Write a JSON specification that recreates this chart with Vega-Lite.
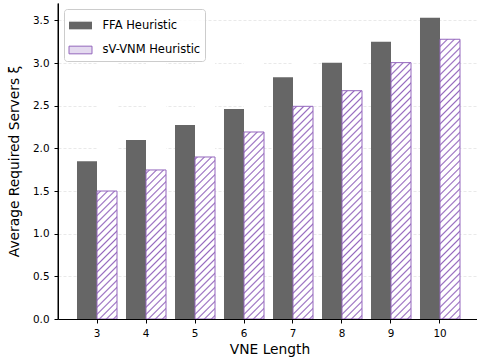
{
  "$schema": "https://vega.github.io/schema/vega-lite/v6.json",
  "width": 419,
  "height": 316,
  "autosize": {"type": "none"},
  "padding": {"left": 58, "top": 3, "right": 0, "bottom": 44},
  "background": "white",
  "data": {"values": [
    {"len": 3, "series": "FFA Heuristic", "value": 1.85},
    {"len": 4, "series": "FFA Heuristic", "value": 2.098},
    {"len": 5, "series": "FFA Heuristic", "value": 2.274},
    {"len": 6, "series": "FFA Heuristic", "value": 2.462},
    {"len": 7, "series": "FFA Heuristic", "value": 2.833},
    {"len": 8, "series": "FFA Heuristic", "value": 3.005},
    {"len": 9, "series": "FFA Heuristic", "value": 3.251},
    {"len": 10, "series": "FFA Heuristic", "value": 3.53},
    {"len": 3, "series": "sV-VNM Heuristic", "value": 1.5},
    {"len": 4, "series": "sV-VNM Heuristic", "value": 1.747},
    {"len": 5, "series": "sV-VNM Heuristic", "value": 1.899},
    {"len": 6, "series": "sV-VNM Heuristic", "value": 2.192},
    {"len": 7, "series": "sV-VNM Heuristic", "value": 2.493},
    {"len": 8, "series": "sV-VNM Heuristic", "value": 2.676},
    {"len": 9, "series": "sV-VNM Heuristic", "value": 3.005},
    {"len": 10, "series": "sV-VNM Heuristic", "value": 3.279}
  ]},
  "encoding": {
    "x": {
      "field": "len", "type": "ordinal",
      "scale": {"domain": [3, 4, 5, 6, 7, 8, 9, 10], "range": [0, 421], "paddingInner": 0.183673, "paddingOuter": 0.387755},
      "axis": {"title": "VNE Length", "labelAngle": 0, "tickSize": 4, "labelPadding": 5, "zindex": 1,
               "titleX": 211.5, "titleY": 34.4, "titleBaseline": "alphabetic", "titleAnchor": "middle"}
    },
    "xOffset": {
      "field": "series", "type": "nominal",
      "scale": {"domain": ["FFA Heuristic", "sV-VNM Heuristic"], "paddingInner": 0, "paddingOuter": 0}
    }
  },
  "layer": [
    {
      "transform": [{"filter": "datum.series === 'FFA Heuristic'"}],
      "mark": {"type": "bar", "strokeWidth": 1},
      "encoding": {
        "y": {
          "field": "value", "type": "quantitative",
          "scale": {"domain": [0, 3.704], "nice": false, "zero": true},
          "axis": {"title": "Average Required Servers ξ", "values": [0, 0.5, 1, 1.5, 2, 2.5, 3, 3.5], "format": ".1f",
                   "tickSize": 4, "labelPadding": 5, "grid": true,
                   "titleX": -39.6, "titleBaseline": "alphabetic", "titleAnchor": "middle"}
        },
        "fill": {
          "field": "series", "type": "nominal",
          "scale": {"domain": ["FFA Heuristic", "sV-VNM Heuristic"], "range": ["#666666", "#e4daef"]},
          "legend": {
            "title": null, "orient": "none", "legendX": 6, "legendY": 6,
            "symbolType": "M-1,-0.333H1V0.333H-1Z", "symbolSize": 529, "symbolStrokeWidth": 1,
            "labelFontSize": 11.5, "labelColor": "#000000", "labelOffset": 10,
            "padding": 4.5, "rowPadding": 6.5,
            "fillColor": "rgba(255,255,255,0.8)", "strokeColor": "#cccccc", "cornerRadius": 3,
            "encoding": {"symbols": {
              "stroke": {
                "condition": {"test": "datum.value === 'sV-VNM Heuristic'", "value": "#9467bd"},
                "value": "transparent"
              }
            }}
          }
        },
        "stroke": {
          "field": "series", "type": "nominal",
          "scale": {"domain": ["FFA Heuristic", "sV-VNM Heuristic"], "range": ["transparent", "#9467bd"]},
          "legend": null
        }
      }
    },
    {
      "transform": [{"filter": "datum.series === 'sV-VNM Heuristic'"}],
      "mark": {"type": "bar", "fill": {"gradient": "linear", "x1": 0, "y1": 0, "x2": 0.073373, "y2": 1.063905,
        "stops": [
          {"offset": 0, "color": "#fff"},
          {"offset": 0.0064, "color": "#fff"}, {"offset": 0.0114, "color": "#9467bd"}, {"offset": 0.0164, "color": "#fff"},
          {"offset": 0.0291, "color": "#fff"}, {"offset": 0.0341, "color": "#9467bd"}, {"offset": 0.0391, "color": "#fff"},
          {"offset": 0.0518, "color": "#fff"}, {"offset": 0.0568, "color": "#9467bd"}, {"offset": 0.0618, "color": "#fff"},
          {"offset": 0.0745, "color": "#fff"}, {"offset": 0.0795, "color": "#9467bd"}, {"offset": 0.0845, "color": "#fff"},
          {"offset": 0.0973, "color": "#fff"}, {"offset": 0.1023, "color": "#9467bd"}, {"offset": 0.1073, "color": "#fff"},
          {"offset": 0.12, "color": "#fff"}, {"offset": 0.125, "color": "#9467bd"}, {"offset": 0.13, "color": "#fff"},
          {"offset": 0.1427, "color": "#fff"}, {"offset": 0.1477, "color": "#9467bd"}, {"offset": 0.1527, "color": "#fff"},
          {"offset": 0.1655, "color": "#fff"}, {"offset": 0.1705, "color": "#9467bd"}, {"offset": 0.1755, "color": "#fff"},
          {"offset": 0.1882, "color": "#fff"}, {"offset": 0.1932, "color": "#9467bd"}, {"offset": 0.1982, "color": "#fff"},
          {"offset": 0.2109, "color": "#fff"}, {"offset": 0.2159, "color": "#9467bd"}, {"offset": 0.2209, "color": "#fff"},
          {"offset": 0.2336, "color": "#fff"}, {"offset": 0.2386, "color": "#9467bd"}, {"offset": 0.2436, "color": "#fff"},
          {"offset": 0.2564, "color": "#fff"}, {"offset": 0.2614, "color": "#9467bd"}, {"offset": 0.2664, "color": "#fff"},
          {"offset": 0.2791, "color": "#fff"}, {"offset": 0.2841, "color": "#9467bd"}, {"offset": 0.2891, "color": "#fff"},
          {"offset": 0.3018, "color": "#fff"}, {"offset": 0.3068, "color": "#9467bd"}, {"offset": 0.3118, "color": "#fff"},
          {"offset": 0.3245, "color": "#fff"}, {"offset": 0.3295, "color": "#9467bd"}, {"offset": 0.3345, "color": "#fff"},
          {"offset": 0.3473, "color": "#fff"}, {"offset": 0.3523, "color": "#9467bd"}, {"offset": 0.3573, "color": "#fff"},
          {"offset": 0.37, "color": "#fff"}, {"offset": 0.375, "color": "#9467bd"}, {"offset": 0.38, "color": "#fff"},
          {"offset": 0.3927, "color": "#fff"}, {"offset": 0.3977, "color": "#9467bd"}, {"offset": 0.4027, "color": "#fff"},
          {"offset": 0.4155, "color": "#fff"}, {"offset": 0.4205, "color": "#9467bd"}, {"offset": 0.4255, "color": "#fff"},
          {"offset": 0.4382, "color": "#fff"}, {"offset": 0.4432, "color": "#9467bd"}, {"offset": 0.4482, "color": "#fff"},
          {"offset": 0.4609, "color": "#fff"}, {"offset": 0.4659, "color": "#9467bd"}, {"offset": 0.4709, "color": "#fff"},
          {"offset": 0.4836, "color": "#fff"}, {"offset": 0.4886, "color": "#9467bd"}, {"offset": 0.4936, "color": "#fff"},
          {"offset": 0.5064, "color": "#fff"}, {"offset": 0.5114, "color": "#9467bd"}, {"offset": 0.5164, "color": "#fff"},
          {"offset": 0.5291, "color": "#fff"}, {"offset": 0.5341, "color": "#9467bd"}, {"offset": 0.5391, "color": "#fff"},
          {"offset": 0.5518, "color": "#fff"}, {"offset": 0.5568, "color": "#9467bd"}, {"offset": 0.5618, "color": "#fff"},
          {"offset": 0.5745, "color": "#fff"}, {"offset": 0.5795, "color": "#9467bd"}, {"offset": 0.5845, "color": "#fff"},
          {"offset": 0.5973, "color": "#fff"}, {"offset": 0.6023, "color": "#9467bd"}, {"offset": 0.6073, "color": "#fff"},
          {"offset": 0.62, "color": "#fff"}, {"offset": 0.625, "color": "#9467bd"}, {"offset": 0.63, "color": "#fff"},
          {"offset": 0.6427, "color": "#fff"}, {"offset": 0.6477, "color": "#9467bd"}, {"offset": 0.6527, "color": "#fff"},
          {"offset": 0.6655, "color": "#fff"}, {"offset": 0.6705, "color": "#9467bd"}, {"offset": 0.6755, "color": "#fff"},
          {"offset": 0.6882, "color": "#fff"}, {"offset": 0.6932, "color": "#9467bd"}, {"offset": 0.6982, "color": "#fff"},
          {"offset": 0.7109, "color": "#fff"}, {"offset": 0.7159, "color": "#9467bd"}, {"offset": 0.7209, "color": "#fff"},
          {"offset": 0.7336, "color": "#fff"}, {"offset": 0.7386, "color": "#9467bd"}, {"offset": 0.7436, "color": "#fff"},
          {"offset": 0.7564, "color": "#fff"}, {"offset": 0.7614, "color": "#9467bd"}, {"offset": 0.7664, "color": "#fff"},
          {"offset": 0.7791, "color": "#fff"}, {"offset": 0.7841, "color": "#9467bd"}, {"offset": 0.7891, "color": "#fff"},
          {"offset": 0.8018, "color": "#fff"}, {"offset": 0.8068, "color": "#9467bd"}, {"offset": 0.8118, "color": "#fff"},
          {"offset": 0.8245, "color": "#fff"}, {"offset": 0.8295, "color": "#9467bd"}, {"offset": 0.8345, "color": "#fff"},
          {"offset": 0.8473, "color": "#fff"}, {"offset": 0.8523, "color": "#9467bd"}, {"offset": 0.8573, "color": "#fff"},
          {"offset": 0.87, "color": "#fff"}, {"offset": 0.875, "color": "#9467bd"}, {"offset": 0.88, "color": "#fff"},
          {"offset": 0.8927, "color": "#fff"}, {"offset": 0.8977, "color": "#9467bd"}, {"offset": 0.9027, "color": "#fff"},
          {"offset": 0.9155, "color": "#fff"}, {"offset": 0.9205, "color": "#9467bd"}, {"offset": 0.9255, "color": "#fff"},
          {"offset": 0.9382, "color": "#fff"}, {"offset": 0.9432, "color": "#9467bd"}, {"offset": 0.9482, "color": "#fff"},
          {"offset": 0.9609, "color": "#fff"}, {"offset": 0.9659, "color": "#9467bd"}, {"offset": 0.9709, "color": "#fff"},
          {"offset": 0.9836, "color": "#fff"}, {"offset": 0.9886, "color": "#9467bd"}, {"offset": 0.9936, "color": "#fff"},
          {"offset": 1, "color": "#fff"}
        ]}},
      "encoding": {
        "y": {"datum": 3.3992, "type": "quantitative"},
        "y2": {"datum": 0}
      }
    },
    {
      "transform": [{"filter": "datum.series === 'sV-VNM Heuristic'"}],
      "mark": {"type": "bar", "fill": "#ffffff"},
      "encoding": {
        "y": {"field": "value", "type": "quantitative"},
        "y2": {"datum": 3.3992}
      }
    },
    {
      "transform": [{"filter": "datum.series === 'sV-VNM Heuristic'"}],
      "mark": {"type": "bar", "fill": "transparent", "stroke": "#9467bd", "strokeWidth": 1},
      "encoding": {
        "y": {"field": "value", "type": "quantitative"}
      }
    },
    {
      "data": {"values": [{}]},
      "mark": {"type": "rule", "color": "#000000", "strokeWidth": 1},
      "encoding": {"y": {"datum": 3.6981, "type": "quantitative"}}
    }
  ],
  "config": {
    "font": "DejaVu Sans",
    "view": {"stroke": null},
    "axis": {
      "domainColor": "#000000", "tickColor": "#000000", "labelColor": "#000000", "titleColor": "#000000",
      "labelFontSize": 10.4, "titleFontSize": 13.8, "titleFontWeight": "normal",
      "gridColor": "#e3e3e3", "gridDash": [3, 2], "gridWidth": 0.8, "domainWidth": 1, "tickWidth": 1
    },
    "legend": {"labelFont": "DejaVu Sans"}
  }
}
